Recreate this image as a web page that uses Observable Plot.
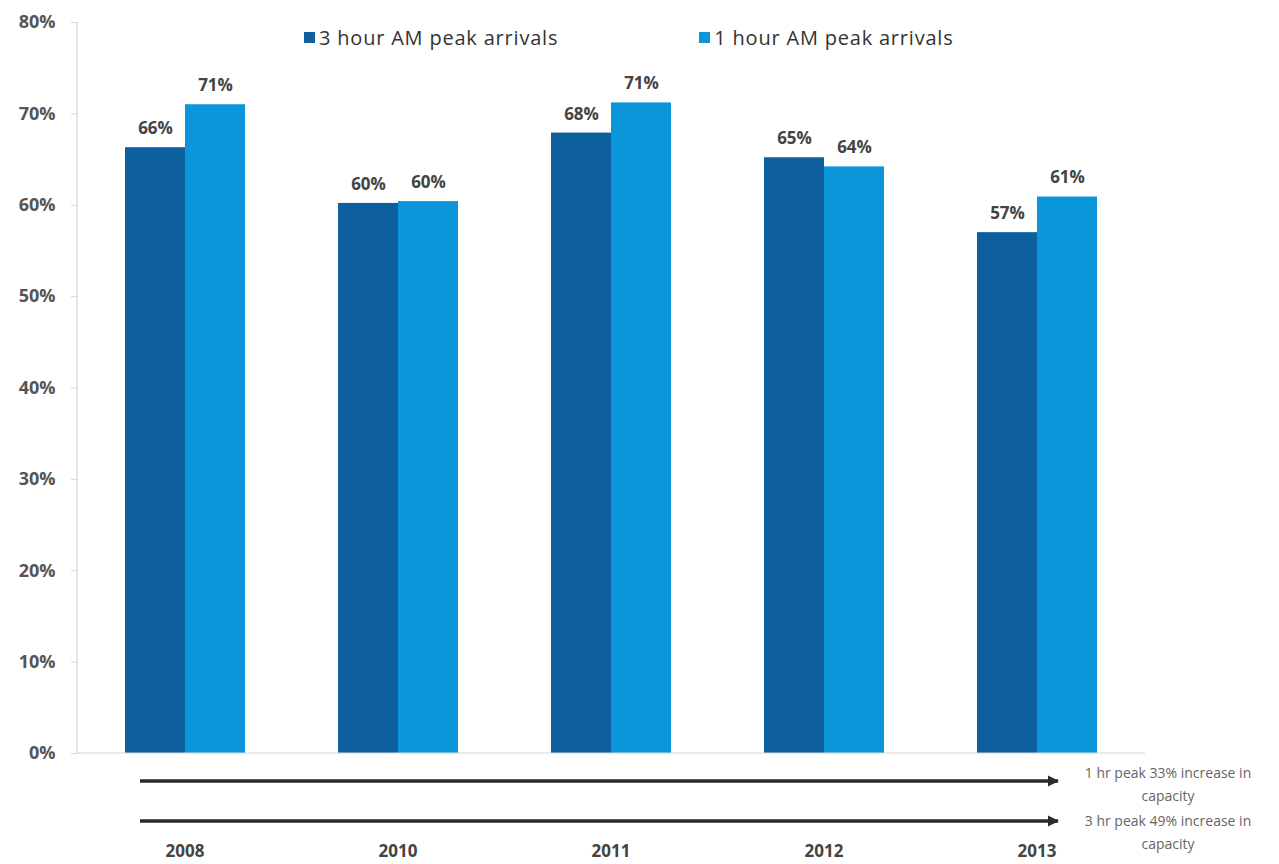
<!DOCTYPE html>
<html><head><meta charset="utf-8">
<script src="https://cdn.jsdelivr.net/npm/d3@7"></script>
<script src="https://cdn.jsdelivr.net/npm/@observablehq/plot@0.6"></script>
<style>
body{margin:0;background:#fff;font-family:"Open Sans",sans-serif}
#wrap{position:relative;width:1279px;height:864px}
#legend{position:absolute;top:24px;left:304px;display:flex;font-size:20px;letter-spacing:0.8px;color:#333}
#legend .item{display:flex;align-items:center;white-space:nowrap}
#legend .sw{width:11px;height:11px;margin-right:4px;display:inline-block}
</style></head><body><div id="wrap"><div id="legend"></div></div>
<script>
const years = ["2008", "2010", "2011", "2012", "2013"];
const series = ["3 hour AM peak arrivals", "1 hour AM peak arrivals"];
const threeHour = [0.663, 0.602, 0.679, 0.652, 0.570];
const oneHour = [0.710, 0.604, 0.712, 0.642, 0.609];
const colors = ["#0d5f9e", "#0b96da"];
const yTicks = [0, 0.1, 0.2, 0.3, 0.4, 0.5, 0.6, 0.7, 0.8];
const notes = [["1 hr peak 33% increase in", "capacity"], ["3 hr peak 49% increase in", "capacity"]];

const data = [];
years.forEach((y, i) => {
  data.push({year: y, series: series[0], value: threeHour[i]});
  data.push({year: y, series: series[1], value: oneHour[i]});
});

const fmt = d3.format(".0%");
const W = 1279, H = 864, mL = 77, mR = 134, mT = 22, mB = 111;
const pIn = 0.43, pOut = 0.215;
const step = (W - mL - mR) / (years.length - pIn + 2 * pOut);
const facetOffset = step * pOut;

const chart = Plot.plot({
  width: W, height: H,
  marginTop: mT, marginBottom: mB, marginLeft: mL, marginRight: mR,
  style: {fontFamily: "Open Sans, sans-serif", background: "transparent"},
  fx: {domain: years, paddingInner: pIn, paddingOuter: pOut, label: null},
  x: {domain: series, padding: 0, axis: null},
  y: {domain: [0, 0.8], axis: null},
  color: {domain: series, range: colors},
  marks: [
    Plot.barY(data, {fx: "year", x: "series", y: "value", fill: "series", inset: 0}),
    Plot.text(data, {fx: "year", x: "series", y: "value", text: d => fmt(d.value), dy: -19, fontSize: 17, fontWeight: "bold", fill: "#444"}),
    Plot.axisY({ticks: yTicks, tickFormat: fmt, tickSize: 7, tickPadding: 16, dx: -facetOffset, label: null, fontSize: 18, fontWeight: "bold", fill: "#555", stroke: "#d6d6d6"}),
    Plot.axisFx({anchor: "bottom", tickSize: 0, tickPadding: 91, fontSize: 17, fontWeight: "bold", fill: "#444", label: null})
  ]
});
document.getElementById("wrap").appendChild(chart);

// legend
const lg = document.getElementById("legend");
series.forEach((s, i) => {
  const it = document.createElement("div");
  it.className = "item";
  it.style.marginRight = i === 0 ? "141px" : "0";
  it.innerHTML = `<span class="sw" style="background:${colors[i]}"></span>${s}`;
  lg.appendChild(it);
});

// axis lines + annotation arrows
const svg = d3.select(chart);
svg.append("line").attr("x1", mL).attr("x2", mL).attr("y1", mT).attr("y2", H - mB)
  .attr("stroke", "#d6d6d6").attr("stroke-width", 1.2);
svg.append("line").attr("x1", mL).attr("x2", W - mR).attr("y1", H - mB).attr("y2", H - mB)
  .attr("stroke", "#d6d6d6").attr("stroke-width", 1.2);
const defs = svg.append("defs");
defs.append("marker").attr("id", "ah").attr("viewBox", "0 0 10 10").attr("refX", 9).attr("refY", 5)
  .attr("markerWidth", 3.2).attr("markerHeight", 3.2).attr("orient", "auto")
  .append("path").attr("d", "M0,0L10,5L0,10z").attr("fill", "#2a2a2a");
const arrowY = [781, 821];
const noteY = [778, 826];
notes.forEach((n, i) => {
  svg.append("line").attr("x1", 140).attr("x2", 1058).attr("y1", arrowY[i]).attr("y2", arrowY[i])
    .attr("stroke", "#2a2a2a").attr("stroke-width", 3.5).attr("marker-end", "url(#ah)");
  const t = svg.append("text").attr("text-anchor", "middle").attr("font-size", 14)
    .attr("fill", "#666").attr("font-family", "Open Sans, sans-serif");
  t.append("tspan").attr("x", 1168).attr("y", noteY[i]).text(n[0]);
  t.append("tspan").attr("x", 1168).attr("y", noteY[i] + 23).text(n[1]);
});
</script></body></html>
